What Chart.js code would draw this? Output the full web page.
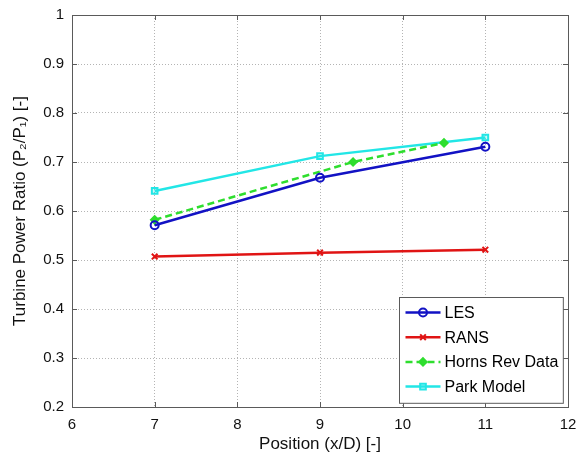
<!DOCTYPE html>
<html>
<head>
<meta charset="utf-8">
<title>Turbine Power Ratio</title>
<script src="https://cdn.jsdelivr.net/npm/chart.js@4.4.1/dist/chart.umd.min.js"></script>
<style>
  html, body { margin: 0; padding: 0; background: #fff; }
  #chartBox { width: 578px; height: 458px; }
</style>
</head>
<body>
<div id="chartBox"><canvas id="ratioChart" width="578" height="458"></canvas></div>
<script>
// values
const lesX = [7, 9, 11];
const lesY = [0.571, 0.668, 0.731];
const ransX = [7, 9, 11];
const ransY = [0.507, 0.515, 0.521];
const hornsX = [7, 9.4, 10.5];
const hornsY = [0.582, 0.700, 0.739];
const parkX = [7, 9, 11];
const parkY = [0.641, 0.712, 0.750];

const xTicks = [6, 7, 8, 9, 10, 11, 12];
const yTicks = [0.2, 0.3, 0.4, 0.5, 0.6, 0.7, 0.8, 0.9, 1];

const FONT = 'Liberation Sans, Arial, Helvetica, sans-serif';

function toPoints(xs, ys) {
    return xs.map((x, i) => ({ x: x, y: ys[i] }));
}

// MATLAB-style axes box with inward ticks on all four sides
const boxPlugin = {
    id: 'axesBox',
    afterDatasetsDraw(chart) {
        const ctx = chart.ctx;
        const a = chart.chartArea;
        const xs = chart.scales.x;
        const ys = chart.scales.y;
        const tick = 5;
        ctx.save();
        ctx.strokeStyle = '#5a5a5a';
        ctx.lineWidth = 1;
        ctx.beginPath();
        xTicks.forEach(v => {
            const px = Math.round(xs.getPixelForValue(v)) + 0.5;
            ctx.moveTo(px, a.bottom); ctx.lineTo(px, a.bottom - tick);
            ctx.moveTo(px, a.top); ctx.lineTo(px, a.top + tick);
        });
        yTicks.forEach(v => {
            const py = Math.round(ys.getPixelForValue(v)) + 0.5;
            ctx.moveTo(a.left, py); ctx.lineTo(a.left + tick, py);
            ctx.moveTo(a.right, py); ctx.lineTo(a.right - tick, py);
        });
        ctx.stroke();
        ctx.strokeRect(Math.round(a.left) + 0.5, Math.round(a.top) + 0.5,
            Math.round(a.right - a.left), Math.round(a.bottom - a.top));
        ctx.restore();
    }
};

// legend drawn inside the plot, lower right corner
const legendPlugin = {
    id: 'insideLegend',
    afterDraw(chart) {
        const ctx = chart.ctx;
        const a = chart.chartArea;
        const sets = chart.data.datasets;
        ctx.save();
        ctx.font = '16px ' + FONT;
        let maxW = 0;
        sets.forEach(d => { maxW = Math.max(maxW, ctx.measureText(d.label).width); });
        const rowH = 24.7;
        const sample = 35;
        const w = 6 + sample + 4 + maxW + 5;
        const h = rowH * sets.length + 7;
        const right = a.right - 5;
        const bottom = a.bottom - 4;
        const left = Math.round(right - w) + 0.5;
        const top = Math.round(bottom - h) + 0.5;
        ctx.fillStyle = '#fff';
        ctx.fillRect(left, top, w, h);
        ctx.strokeStyle = '#5a5a5a';
        ctx.lineWidth = 1;
        ctx.strokeRect(left, top, w, h);

        sets.forEach((d, i) => {
            const y = top + 15 + i * rowH;
            const x0 = left + 6;
            ctx.strokeStyle = d.borderColor;
            ctx.lineWidth = d.borderWidth;
            ctx.setLineDash(d.borderDash || []);
            ctx.beginPath();
            ctx.moveTo(x0, y);
            ctx.lineTo(x0 + sample, y);
            ctx.stroke();
            ctx.setLineDash([]);
            ctx.strokeStyle = d.pointBorderColor;
            ctx.fillStyle = d.pointBackgroundColor;
            ctx.lineWidth = d.pointBorderWidth;
            Chart.helpers.drawPoint(ctx, {
                pointStyle: d.pointStyle,
                radius: d.pointRadius,
                borderWidth: d.pointBorderWidth,
                rotation: 0
            }, x0 + sample / 2, y);
            ctx.fillStyle = '#000';
            ctx.textBaseline = 'middle';
            ctx.textAlign = 'left';
            ctx.fillText(d.label, x0 + sample + 4, y + 1);
        });
        ctx.restore();
    }
};

const ctx = document.getElementById('ratioChart').getContext('2d');
new Chart(ctx, {
    type: 'line',
    data: {
        datasets: [{
            label: 'LES',
            data: toPoints(lesX, lesY),
            borderColor: '#1212c4',
            borderWidth: 2.5,
            pointStyle: 'circle',
            pointRadius: 4,
            pointBorderWidth: 2,
            pointBorderColor: '#1212c4',
            pointBackgroundColor: 'rgba(255,255,255,0)'
        }, {
            label: 'RANS',
            data: toPoints(ransX, ransY),
            borderColor: '#e01414',
            borderWidth: 2.5,
            pointStyle: 'crossRot',
            pointRadius: 4,
            pointBorderWidth: 2,
            pointBorderColor: '#e01414',
            pointBackgroundColor: '#e01414'
        }, {
            label: 'Horns Rev Data',
            data: toPoints(hornsX, hornsY),
            borderColor: '#2ede2e',
            borderWidth: 2.5,
            borderDash: [7, 4],
            pointStyle: 'rectRot',
            pointRadius: 4,
            pointBorderWidth: 1.5,
            pointBorderColor: '#2ede2e',
            pointBackgroundColor: '#2ede2e'
        }, {
            label: 'Park Model',
            data: toPoints(parkX, parkY),
            borderColor: '#22e6e6',
            borderWidth: 2.5,
            pointStyle: 'rect',
            pointRadius: 4,
            pointBorderWidth: 2,
            pointBorderColor: '#22e6e6',
            pointBackgroundColor: 'rgba(34,230,230,0.25)'
        }]
    },
    options: {
        responsive: false,
        animation: false,
        layout: { padding: { top: 15, right: 10, left: 0, bottom: 0 } },
        plugins: {
            legend: { display: false },
            tooltip: { enabled: false }
        },
        scales: {
            x: {
                type: 'linear',
                min: 6,
                max: 12,
                afterFit: s => { s.height = 51; s.paddingLeft = 0; s.paddingRight = 0; },
                afterBuildTicks: s => { s.ticks = xTicks.map(v => ({ value: v })); },
                ticks: {
                    padding: 9,
                    color: '#111',
                    font: { family: FONT, size: 15 },
                    callback: v => String(v)
                },
                grid: { color: '#b4b4b4', drawTicks: false },
                border: { display: false, dash: [1, 2] },
                title: {
                    display: true,
                    text: 'Position (x/D) [-]',
                    color: '#111',
                    font: { family: FONT, size: 17 },
                    padding: { top: 0, bottom: 3 }
                }
            },
            y: {
                min: 0.2,
                max: 1,
                afterFit: s => { s.width = 72; s.paddingTop = 0; s.paddingBottom = 0; },
                afterBuildTicks: s => { s.ticks = yTicks.map(v => ({ value: v })); },
                ticks: {
                    padding: 8,
                    color: '#111',
                    font: { family: FONT, size: 15 },
                    callback: v => String(Number(v.toFixed(1)))
                },
                grid: { color: '#b4b4b4', drawTicks: false },
                border: { display: false, dash: [1, 2] },
                title: {
                    display: true,
                    text: 'Turbine Power Ratio (P\u2082/P\u2081) [-]',
                    color: '#111',
                    font: { family: FONT, size: 17 },
                    padding: { top: 10, bottom: 0 }
                }
            }
        }
    },
    plugins: [boxPlugin, legendPlugin]
});
</script>
</body>
</html>
